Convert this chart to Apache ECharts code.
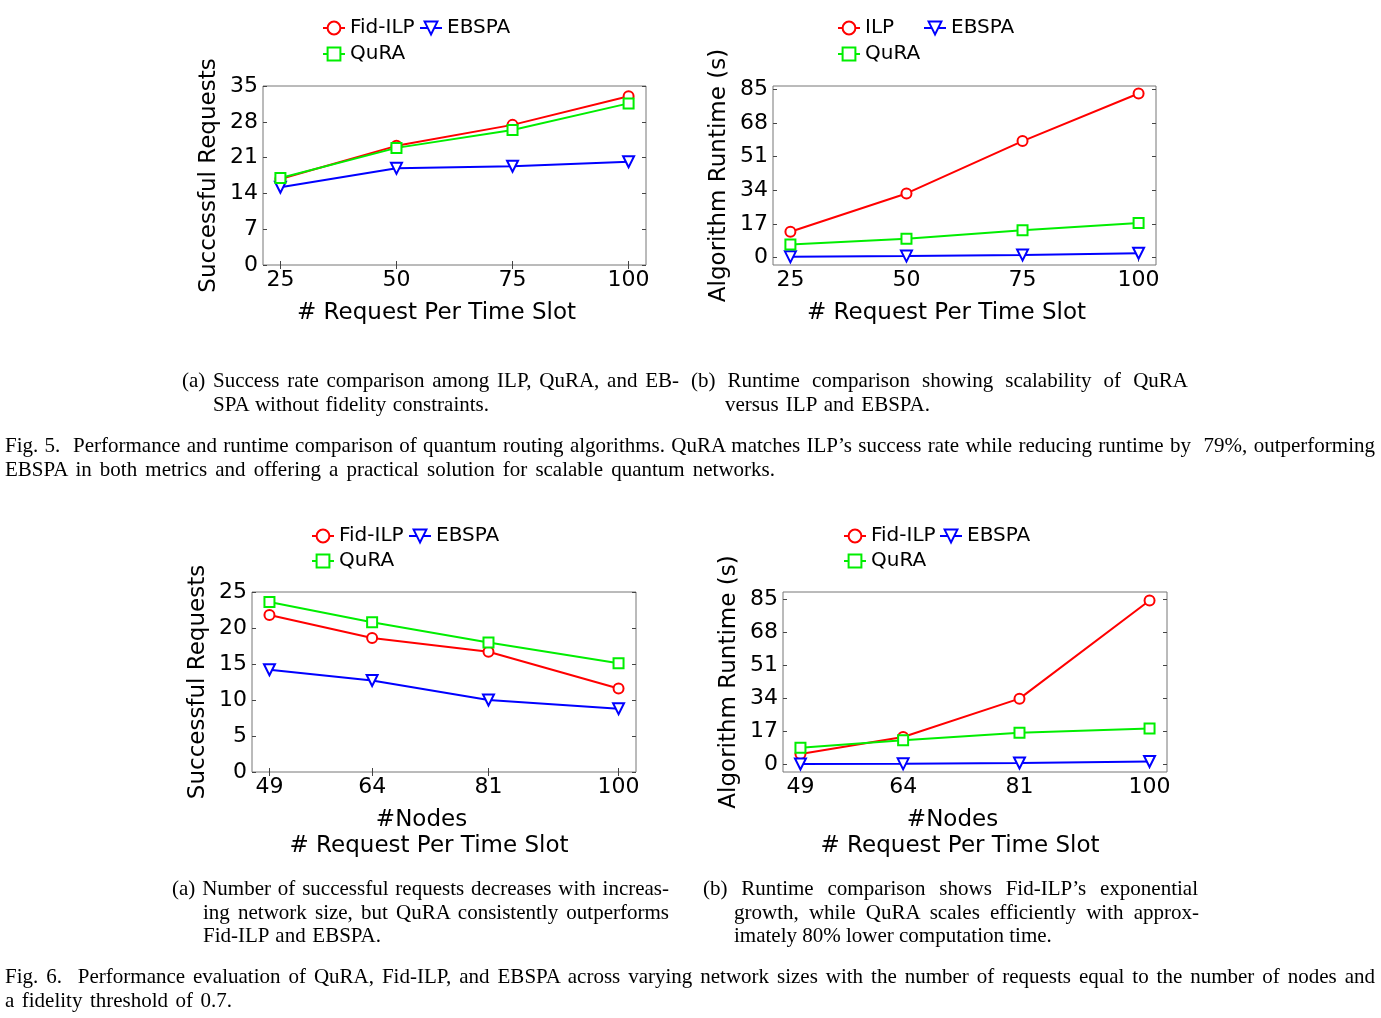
<!DOCTYPE html>
<html>
<head>
<meta charset="utf-8">
<script src="https://cdn.jsdelivr.net/npm/echarts@6/dist/echarts.min.js"></script>
<style>
html, body { margin: 0; padding: 0; background: #fff; }
#main { position: absolute; left: 0; top: 0; width: 1381px; height: 1018px; }
.cap { position: absolute; white-space: pre; font-family: "Liberation Serif", "Times New Roman", serif; font-size: 21px; line-height: 24px; color: #000; transform-origin: 0 0; }
</style>
</head>
<body>
<div id="main"></div>
<script>
// x values
var xRequests = [25, 50, 75, 100];
var xNodes = [49, 64, 81, 100];
var runTicks = [0, 17, 34, 51, 68, 85];

// Fig 5 (a) successful requests
var succFidIlp = [16.8, 23.3, 27.4, 33.0];
var succEbspa = [15.2, 18.9, 19.3, 20.2];
var succQura = [17.0, 22.9, 26.4, 31.6];

// Fig 5 (b) runtime
var runIlp = [13.1, 32.4, 58.8, 82.8];
var runEbspa = [0.4, 0.8, 1.4, 2.2];
var runQura = [6.7, 9.6, 13.8, 17.5];

// Fig 6 (a) successful requests vs nodes
var nodeSuccFidIlp = [21.8, 18.6, 16.7, 11.6];
var nodeSuccEbspa = [14.2, 12.7, 10.0, 8.8];
var nodeSuccQura = [23.6, 20.8, 18.0, 15.1];

// Fig 6 (b) runtime vs nodes
var nodeRunFidIlp = [5.5, 14.2, 33.9, 84.3];
var nodeRunEbspa = [0.3, 0.4, 0.8, 1.6];
var nodeRunQura = [8.7, 12.5, 16.4, 18.5];

var FONT = 'DejaVu Sans';
var RED = '#ff0000', BLUE = '#0000ff', GREEN = '#00ee00';

function pairs(xs, ys) {
  return xs.map(function (x, i) { return [x, ys[i]]; });
}

function line(name, color, symbol, xs, ys, gi) {
  var tri = symbol === 'emptyTriangle';
  return {
    name: name, type: 'line',
    xAxisIndex: gi * 2, yAxisIndex: gi * 2,
    data: pairs(xs, ys),
    color: color,
    lineStyle: { width: 2, color: color },
    symbol: symbol, symbolSize: tri ? 11 : 10,
    symbolRotate: tri ? 180 : 0,
    itemStyle: { color: color, borderWidth: 1.5 },
    z: 3
  };
}

var tickStyle = { color: '#444', width: 1 };

function xAxes(gi, min, max, ticks, name, nameStyle, gap) {
  return [
    { gridIndex: gi, type: 'value', min: min, max: max, position: 'bottom',
      axisLine: { show: false }, splitLine: { show: false },
      axisTick: { inside: true, length: 4, customValues: ticks, lineStyle: tickStyle },
      axisLabel: { customValues: ticks, fontSize: 22, color: '#000', fontFamily: FONT, margin: 4 },
      name: name, nameLocation: 'middle', nameGap: gap, nameTextStyle: nameStyle },
    { gridIndex: gi, type: 'value', min: min, max: max, position: 'top',
      axisLine: { show: false }, splitLine: { show: false },
      axisTick: { inside: true, length: 4, customValues: ticks, lineStyle: tickStyle },
      axisLabel: { show: false } }
  ];
}

function yAxes(gi, min, max, ticks, name) {
  return [
    { gridIndex: gi, type: 'value', min: min, max: max, position: 'left',
      axisLine: { show: false }, splitLine: { show: false },
      axisTick: { inside: true, length: 4, customValues: ticks, lineStyle: tickStyle },
      axisLabel: { customValues: ticks, fontSize: 22, color: '#000', fontFamily: FONT, margin: 5, padding: [4, 0, 0, 0] },
      name: name, nameLocation: 'middle', nameRotate: 90, nameGap: 42,
      nameTextStyle: { fontSize: 23, color: '#000', fontFamily: FONT } },
    { gridIndex: gi, type: 'value', min: min, max: max, position: 'right',
      axisLine: { show: false }, splitLine: { show: false },
      axisTick: { inside: true, length: 4, customValues: ticks, lineStyle: tickStyle },
      axisLabel: { show: false } }
  ];
}

var oneLine = { fontSize: 23, color: '#000', fontFamily: FONT, padding: [0, 36, 0, 0] };
var twoLine = {
  fontSize: 23, color: '#000', fontFamily: FONT, lineHeight: 26, padding: [0, 30, 0, 0],
  rich: {
    a: { fontSize: 23, color: '#000', fontFamily: FONT, lineHeight: 26, padding: [0, 15, 0, 0] },
    b: { fontSize: 23, color: '#000', fontFamily: FONT, lineHeight: 26 }
  }
};
var nodesName = '{a|#Nodes}\n{b|# Request Per Time Slot}';

function leg(name, left, top) {
  return {
    data: [name], left: left, top: top, padding: 0,
    itemWidth: 22, itemHeight: 16, itemGap: 0, selectedMode: false,
    textStyle: { fontSize: 20, fontFamily: FONT, color: '#000', lineHeight: 20 }
  };
}

var gridBase = { show: true, borderColor: '#777', borderWidth: 1, backgroundColor: 'transparent', containLabel: false };

var option = {
  animation: false,
  backgroundColor: '#fff',
  grid: [
    Object.assign({ left: 263, top: 86, width: 383, height: 179 }, gridBase),
    Object.assign({ left: 773, top: 86, width: 383, height: 179 }, gridBase),
    Object.assign({ left: 252, top: 592, width: 384, height: 180 }, gridBase),
    Object.assign({ left: 783, top: 592, width: 384, height: 180 }, gridBase)
  ],
  xAxis: [].concat(
    xAxes(0, 21.25, 103.75, xRequests, '# Request Per Time Slot', oneLine, 37),
    xAxes(1, 21.25, 103.75, xRequests, '# Request Per Time Slot', oneLine, 37),
    xAxes(2, 46.45, 102.55, xNodes, nodesName, twoLine, 35),
    xAxes(3, 46.45, 102.55, xNodes, nodesName, twoLine, 35)
  ),
  yAxis: [].concat(
    yAxes(0, 0, 35, [0, 7, 14, 21, 28, 35], 'Successful Requests'),
    yAxes(1, -3.7, 86.6, runTicks, 'Algorithm Runtime (s)'),
    yAxes(2, 0, 25, [0, 5, 10, 15, 20, 25], 'Successful Requests'),
    yAxes(3, -3.8, 88.7, runTicks, 'Algorithm Runtime (s)')
  ),
  legend: [
    leg('Fid-ILP', 322, 18), leg('EBSPA', 419, 18), leg('QuRA', 322, 44),
    leg('ILP', 837, 18), leg('EBSPA', 923, 18), leg('QuRA', 837, 44),
    leg('Fid-ILP', 311, 526), leg('EBSPA', 408, 526), leg('QuRA', 311, 551),
    leg('Fid-ILP', 843, 526), leg('EBSPA', 939, 526), leg('QuRA', 843, 551)
  ],
  series: [
    line('Fid-ILP', RED, 'emptyCircle', xRequests, succFidIlp, 0),
    line('EBSPA', BLUE, 'emptyTriangle', xRequests, succEbspa, 0),
    line('QuRA', GREEN, 'emptyRect', xRequests, succQura, 0),
    line('ILP', RED, 'emptyCircle', xRequests, runIlp, 1),
    line('EBSPA', BLUE, 'emptyTriangle', xRequests, runEbspa, 1),
    line('QuRA', GREEN, 'emptyRect', xRequests, runQura, 1),
    line('Fid-ILP', RED, 'emptyCircle', xNodes, nodeSuccFidIlp, 2),
    line('EBSPA', BLUE, 'emptyTriangle', xNodes, nodeSuccEbspa, 2),
    line('QuRA', GREEN, 'emptyRect', xNodes, nodeSuccQura, 2),
    line('Fid-ILP', RED, 'emptyCircle', xNodes, nodeRunFidIlp, 3),
    line('EBSPA', BLUE, 'emptyTriangle', xNodes, nodeRunEbspa, 3),
    line('QuRA', GREEN, 'emptyRect', xNodes, nodeRunQura, 3)
  ]
};

var myChart = echarts.init(document.getElementById('main'));
myChart.setOption(option);

// captions: text, left, baseline, right edge, justified line?
var capLines = [
  ['(a) Success rate comparison among ILP, QuRA, and EB-', 182, 387, 679, true],
  ['SPA without fidelity constraints.', 213, 411, 489, false],
  ['(b) Runtime comparison showing scalability of QuRA', 691, 387, 1188, true],
  ['versus ILP and EBSPA.', 725, 411, 930, false],
  ['Fig. 5.  Performance and runtime comparison of quantum routing algorithms. QuRA matches ILP\u2019s success rate while reducing runtime by  79%, outperforming', 5, 452, 1375, true],
  ['EBSPA in both metrics and offering a practical solution for scalable quantum networks.', 5, 476, 775, false],
  ['(a) Number of successful requests decreases with increas-', 172, 895, 669, true],
  ['ing network size, but QuRA consistently outperforms', 203, 919, 669, true],
  ['Fid-ILP and EBSPA.', 203, 942, 381, false],
  ['(b) Runtime comparison shows Fid-ILP\u2019s exponential', 703, 895, 1198, true],
  ['growth, while QuRA scales efficiently with approx-', 734, 919, 1199, true],
  ['imately 80% lower computation time.', 734, 942, 1048, false],
  ['Fig. 6.  Performance evaluation of QuRA, Fid-ILP, and EBSPA across varying network sizes with the number of requests equal to the number of nodes and', 5, 983, 1375, true],
  ['a fidelity threshold of 0.7.', 5, 1007, 232, false]
];

capLines.forEach(function (c) {
  var d = document.createElement('div');
  d.className = 'cap';
  d.textContent = c[0];
  d.style.left = c[1] + 'px';
  d.style.top = (c[2] - 19) + 'px';
  document.body.appendChild(d);
  var w = d.getBoundingClientRect().width;
  var target = c[3] - c[1];
  var spaces = (c[0].match(/ /g) || []).length;
  var gap = spaces ? (target - w) / spaces : 0;
  if (!c[4] && gap < 0) return;
  if (gap > -1.5) {
    d.style.wordSpacing = gap + 'px';
  } else {
    d.style.transform = 'scaleX(' + (target / w) + ')';
  }
});
</script>
</body>
</html>
